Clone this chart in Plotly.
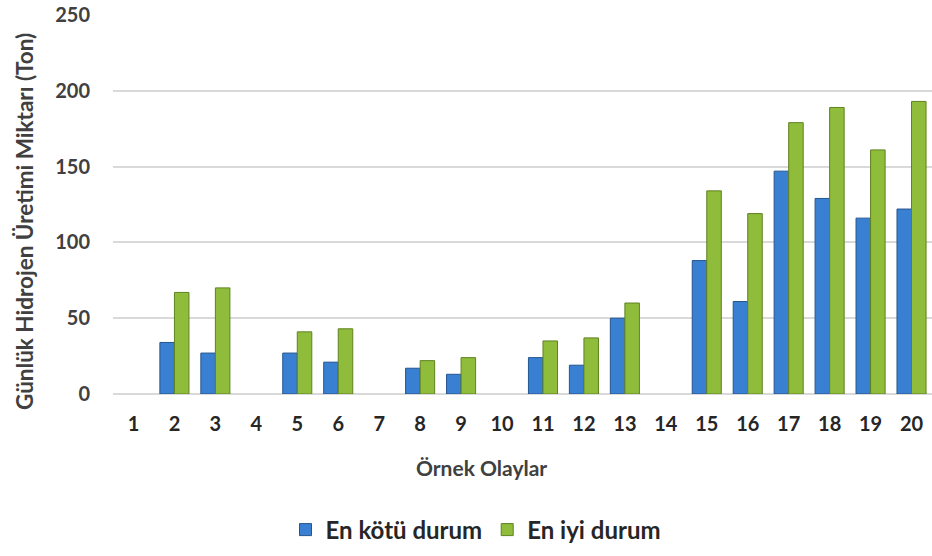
import plotly.graph_objects as go

categories = [str(i) for i in range(1, 21)]
worst_case = [None, 34, 27, None, 27, 21, None, 17, 13, None, 24, 19, 50, None, 88, 61, 147, 129, 116, 122]
best_case = [None, 67, 70, None, 41, 43, None, 22, 24, None, 35, 37, 60, None, 134, 119, 179, 189, 161, 193]
y_ticks = [0, 50, 100, 150, 200, 250]

font_family = "Lato, 'Open Sans', sans-serif"

fig = go.Figure()
fig.add_trace(go.Bar(
    x=categories, y=worst_case, name="En kötü durum",
    marker=dict(color="#3A80D2", line=dict(color="#24558F", width=1)),
))
fig.add_trace(go.Bar(
    x=categories, y=best_case, name="En iyi durum",
    marker=dict(color="#8FBC3B", line=dict(color="#5F8220", width=1)),
))

L, R, T, B = 113, 0, 15, 162
W, H = 932, 556
pw, ph = W - L - R, H - T - B

fig.update_layout(
    width=W, height=H,
    paper_bgcolor="white", plot_bgcolor="white",
    barmode="group", bargap=0.29, bargroupgap=0,
    margin=dict(l=L, r=R, t=T, b=B),
    font=dict(family=font_family, color="#404040"),
    legend=dict(orientation="h", x=(476 - L) / pw, xanchor="center",
                y=(394 - 530) / ph, yanchor="middle",
                font=dict(size=24, color="#262626", weight="bold"), traceorder="normal"),
    xaxis=dict(
        tickfont=dict(size=20, color="#262626", weight="bold"), showgrid=False, showline=False,
        ticks="", ticklabelstandoff=16,
    ),
    yaxis=dict(
        range=[0, 250], tickvals=y_ticks, tickfont=dict(size=20, color="#404040", weight="bold"),
        showgrid=True, gridcolor="#D9D9D9", gridwidth=2, zeroline=True, zerolinecolor="#D9D9D9", zerolinewidth=2,
        ticks="", ticklabelstandoff=22,
    ),
    annotations=[
        dict(text="Örnek Olaylar", xref="paper", yref="paper", x=(481 - L) / pw, y=(394 - 467) / ph,
             xanchor="center", yanchor="middle", showarrow=False,
             font=dict(size=21, color="#404040", weight="bold")),
        dict(text="Günlük Hidrojen Üretimi Miktarı (Ton)", xref="paper", yref="paper",
             x=(24 - L) / pw, y=(394 - 222) / ph, textangle=-90,
             xanchor="center", yanchor="middle", showarrow=False,
             font=dict(size=22.5, color="#404040", weight="bold")),
    ],
)

fig.write_html("out.html", config={"displayModeBar": False},
               post_script="document.body.style.margin='0';")
